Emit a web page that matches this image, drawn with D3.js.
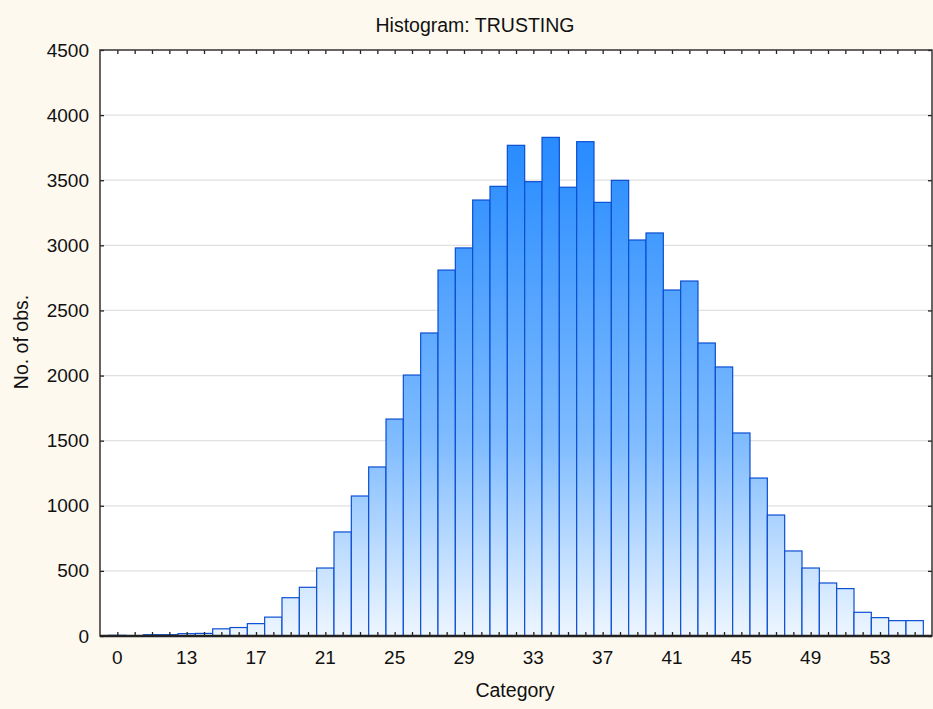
<!DOCTYPE html>
<html>
<head>
<meta charset="utf-8">
<script src="https://cdn.jsdelivr.net/npm/d3@7"></script>
<style>
  body { margin: 0; background: #fdf9ef; }
  text { font-family: "Liberation Sans", Arial, sans-serif; fill: #111; }
</style>
</head>
<body>
<svg id="chart" width="933" height="709"></svg>
<script>
// categories (one bar each) and counts
const categories = [0, 10, 11, 12, 13, 14, 15, 16, 17, 18, 19, 20, 21, 22, 23, 24, 25, 26, 27, 28,
  29, 30, 31, 32, 33, 34, 35, 36, 37, 38, 39, 40, 41, 42, 43, 44, 45, 46, 47, 48, 49, 50, 51, 52, 53, 54, 55];
const counts = [5, 0, 10, 10, 18, 20, 55, 65, 95, 145, 294, 374, 522, 799, 1075, 1298, 1666, 2004, 2327, 2810,
  2980, 3348, 3453, 3768, 3489, 3829, 3446, 3796, 3330, 3499, 3041, 3095, 2657, 2726, 2250, 2066, 1559, 1213, 929, 653,
  522, 407, 364, 182, 141, 118, 118];
const xTickLabels = [0, 13, 17, 21, 25, 29, 33, 37, 41, 45, 49, 53];
const yTicks = [0, 500, 1000, 1500, 2000, 2500, 3000, 3500, 4000, 4500];

const svg = d3.select("#chart");
const pLeft = 100, pRight = 932, pTop = 50, pBottom = 636;

const x = d3.scaleLinear().domain([-1, categories.length]).range([pLeft, pRight]);
const y = d3.scaleLinear().domain([0, 4500]).range([pBottom, pTop]);
const bw = x(1) - x(0);

const defs = svg.append("defs");
const grad = defs.append("linearGradient")
  .attr("id", "barFill")
  .attr("gradientUnits", "userSpaceOnUse")
  .attr("x1", 0).attr("y1", pTop).attr("x2", 0).attr("y2", pBottom);
[[0, "#1a82ff"], [0.2, "#2e8fff"], [0.67, "#80bcff"], [1, "#eef6ff"]].forEach(s => {
  grad.append("stop").attr("offset", s[0]).attr("stop-color", s[1]);
});

// plot background
svg.append("rect")
  .attr("x", pLeft).attr("y", pTop)
  .attr("width", pRight - pLeft).attr("height", pBottom - pTop)
  .attr("fill", "white");

// grid
svg.append("g")
  .selectAll("line")
  .data(yTicks.slice(1, -1))
  .join("line")
  .attr("x1", pLeft).attr("x2", pRight)
  .attr("y1", d => y(d)).attr("y2", d => y(d))
  .attr("stroke", "#e0e0e0")
  .attr("stroke-width", 1.2);

// bars
svg.append("g")
  .selectAll("rect")
  .data(counts)
  .join("rect")
  .attr("x", (d, i) => x(i) - bw / 2)
  .attr("y", d => y(d))
  .attr("width", bw)
  .attr("height", d => pBottom - y(d))
  .attr("fill", "url(#barFill)")
  .attr("stroke", d => d > 0 ? "#0b4fd3" : "none")
  .attr("stroke-width", 1.2);

// axes
const idx = d3.range(categories.length);
const labelIdx = xTickLabels.map(v => categories.indexOf(v));

svg.append("g")
  .attr("transform", `translate(0,${pBottom})`)
  .call(d3.axisBottom(x).tickValues(idx).tickSizeInner(-4).tickSizeOuter(0).tickFormat(""))
  .select(".domain").remove();

svg.append("g")
  .attr("transform", `translate(0,${pTop})`)
  .call(d3.axisTop(x).tickValues(idx).tickSizeInner(-4).tickSizeOuter(0).tickFormat(""))
  .select(".domain").remove();

svg.append("g")
  .selectAll("text")
  .data(labelIdx)
  .join("text")
  .attr("x", d => x(d))
  .attr("y", pBottom + 28)
  .attr("text-anchor", "middle")
  .style("font-size", "19px")
  .text(d => categories[d]);

const yAxis = svg.append("g")
  .attr("transform", `translate(${pLeft},0)`)
  .call(d3.axisLeft(y).tickValues(yTicks).tickFormat(d3.format("d"))
    .tickSizeInner(-4).tickSizeOuter(0).tickPadding(11));
yAxis.select(".domain").remove();
yAxis.selectAll("text").style("font-size", "19px").attr("fill", "#111")
  .attr("font-family", null);

svg.append("g")
  .attr("transform", `translate(${pRight},0)`)
  .call(d3.axisRight(y).tickValues(yTicks).tickSizeInner(-4).tickSizeOuter(0).tickFormat(""))
  .select(".domain").remove();

svg.selectAll(".tick line").attr("stroke", "#222").attr("stroke-width", 1.3);
svg.selectAll("g[font-family]").attr("font-family", null);

// frame
svg.append("rect")
  .attr("x", pLeft).attr("y", pTop)
  .attr("width", pRight - pLeft).attr("height", pBottom - pTop)
  .attr("fill", "none")
  .attr("stroke", "#333")
  .attr("stroke-width", 1.5);
svg.append("line")
  .attr("x1", pLeft).attr("x2", pRight)
  .attr("y1", pBottom).attr("y2", pBottom)
  .attr("stroke", "#222").attr("stroke-width", 2.5);

// titles
svg.append("text")
  .attr("x", 475).attr("y", 32)
  .attr("text-anchor", "middle")
  .style("font-size", "19.5px")
  .text("Histogram: TRUSTING");

svg.append("text")
  .attr("x", 515).attr("y", 697)
  .attr("text-anchor", "middle")
  .style("font-size", "19.5px")
  .text("Category");

svg.append("text")
  .attr("transform", `translate(28,342) rotate(-90)`)
  .attr("text-anchor", "middle")
  .style("font-size", "19.5px")
  .text("No. of obs.");
</script>
</body>
</html>
